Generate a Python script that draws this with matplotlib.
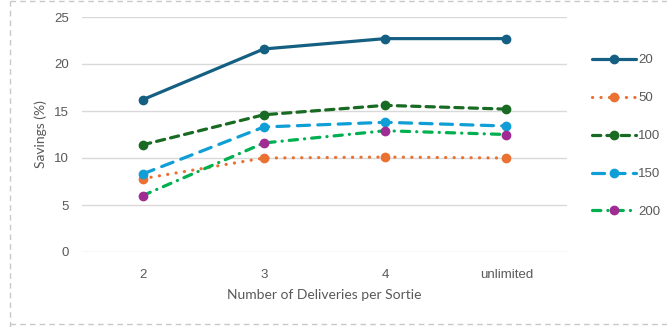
import matplotlib
matplotlib.use("Agg")
import matplotlib.pyplot as plt
from matplotlib.lines import Line2D

plt.rcParams['font.family'] = ['Liberation Sans', 'DejaVu Sans']

categories = ["2", "3", "4", "unlimited"]
series_names = ["20", "50", "100", "150", "200"]
s20 = [16.2, 21.6, 22.7, 22.7]
s50 = [7.8, 10.0, 10.1, 10.0]
s100 = [11.4, 14.6, 15.6, 15.2]
s150 = [8.3, 13.3, 13.8, 13.4]
s200 = [6.0, 11.6, 12.9, 12.5]
y_ticks = [0, 5, 10, 15, 20, 25]

W, H = 667, 327
fig = plt.figure(figsize=(W / 100, H / 100), dpi=100)
fig.patch.set_facecolor("white")

# chart area frame (dashed)
frame_kw = dict(color="#C8C8C8", lw=1.0, ls=(0, (4, 3)), transform=fig.transFigure)
fig.add_artist(Line2D([10 / W, 10 / W], [0.5 / H, 1 - 0.5 / H], **frame_kw))
fig.add_artist(Line2D([10 / W, 1], [1 - 0.5 / H, 1 - 0.5 / H], **frame_kw))
fig.add_artist(Line2D([10 / W, 1], [3 / H, 3 / H], **frame_kw))

ax = fig.add_axes([82 / W, (H - 252) / H, (567 - 82) / W, (252 - 17) / H])
x = list(range(len(categories)))

styles = [
    (s20, "#156082", "#156082", "-"),
    (s50, "#E97132", "#E97132", (0, (0.05, 2.6))),
    (s100, "#196B24", "#196B24", (0, (2.6, 1.9))),
    (s150, "#0F9ED5", "#0F9ED5", (0, (3.8, 2.6))),
    (s200, "#00B050", "#A02B93", (0, (2.6, 2.2, 0.05, 2.2))),
]

for name, (vals, lc, mc, ls) in zip(series_names, styles):
    ax.plot(x, vals, color=lc, ls=ls, lw=2.3, marker="o", markersize=6,
            markerfacecolor=mc, markeredgecolor=mc, dash_capstyle="round",
            solid_capstyle="round", label=name, clip_on=False, zorder=3)

ax.set_xlim(-0.5, len(categories) - 0.5)
ax.set_ylim(0, 25)
ax.set_yticks(y_ticks)
ax.set_xticks(x)
ax.set_xticklabels(categories)
ax.grid(axis="y", color="#D9D9D9", lw=1.0)
ax.set_axisbelow(True)
for sp in ax.spines.values():
    sp.set_visible(False)
ax.tick_params(axis="x", length=0, labelsize=9.5, labelcolor="#595959", pad=12)
ax.tick_params(axis="y", length=0, labelsize=9.5, labelcolor="#595959", pad=9.5)
ax.set_ylabel("Savings (%)", fontsize=10, color="#595959", labelpad=5,
              family=["Lato", "DejaVu Sans"])
ax.set_xlabel("Number of Deliveries per Sortie", fontsize=10, color="#595959",
              labelpad=6, family=["Lato", "DejaVu Sans"])

leg = ax.legend(loc="upper left", bbox_to_anchor=(592 / W, (H - 54) / H),
                bbox_transform=fig.transFigure, frameon=False, fontsize=9.5,
                labelcolor="#595959", handlelength=3.3, handletextpad=0.2,
                labelspacing=1.95, borderaxespad=0, borderpad=0)

fig.savefig("out.png", dpi=100)
